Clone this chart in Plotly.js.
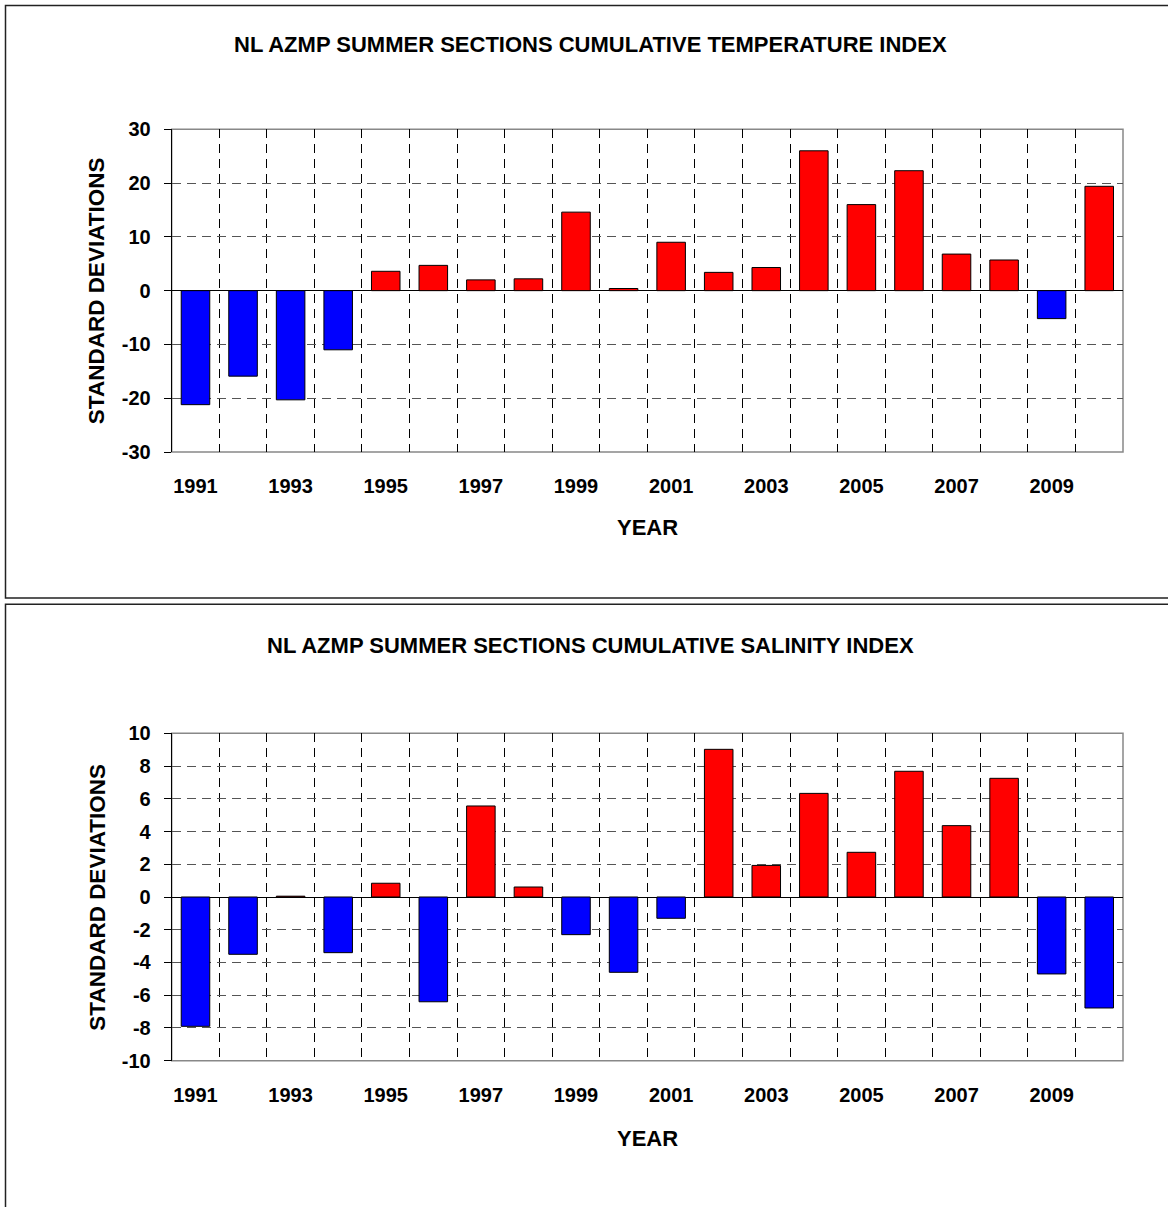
<!DOCTYPE html>
<html>
<head>
<meta charset="utf-8">
<script src="https://cdn.plot.ly/plotly-3.0.1.min.js"></script>
<style>html,body{margin:0;padding:0;background:#fff;}#chart{width:1168px;height:1207px;}</style>
</head>
<body>
<div id="chart"></div>
<script>
const years = [1991,1992,1993,1994,1995,1996,1997,1998,1999,2000,2001,2002,2003,2004,2005,2006,2007,2008,2009,2010];
const tempIndex = [-21.2,-15.9,-20.3,-11.0,3.6,4.7,2.0,2.2,14.6,0.4,9.0,3.4,4.3,26.0,16.0,22.3,6.8,5.7,-5.2,19.4];
const salIndex = [-7.9,-3.5,0.05,-3.4,0.84,-6.4,5.56,0.61,-2.3,-4.6,-1.3,9.02,1.93,6.33,2.73,7.68,4.36,7.25,-4.7,-6.78];
const xTickVals = [1991,1993,1995,1997,1999,2001,2003,2005,2007,2009];
const xTickText = ["1991","1993","1995","1997","1999","2001","2003","2005","2007","2009"];
const tempTicks = [-30,-20,-10,0,10,20,30];
const tempTickText = ["-30","-20","-10","0","10","20","30"];
const salTicks = [-10,-8,-6,-4,-2,0,2,4,6,8,10];
const salTickText = ["-10","-8","-6","-4","-2","0","2","4","6","8","10"];
const titleTop = "NL AZMP SUMMER SECTIONS CUMULATIVE TEMPERATURE INDEX";
const titleBottom = "NL AZMP SUMMER SECTIONS CUMULATIVE SALINITY INDEX";
const yTitle = "STANDARD DEVIATIONS";
const xTitle = "YEAR";

const FONT = "Liberation Sans, Arial, Helvetica, sans-serif";
const W = 1168, H = 1207;
const colorFor = v => v >= 0 ? "#FF0000" : "#0000FF";
const boundaries = years.slice(0, -1).map(y => y + 0.5);

function barTrace(vals, xa, ya) {
  return {
    type: "bar", x: years, y: vals, xaxis: xa, yaxis: ya, width: 0.6,
    marker: {color: vals.map(colorFor), line: {color: "#000", width: 1}},
    hoverinfo: "x+y", showlegend: false
  };
}

function xAxis(anchor) {
  return {
    anchor: anchor, domain: [171.7/W, 1123/W], range: [1990.5, 2010.5],
    tickmode: "array", tickvals: xTickVals, ticktext: xTickText,
    showgrid: false, zeroline: false, showline: false, ticks: "",
    ticklabelstandoff: 20,
    tickfont: {family: FONT, size: 20, color: "#000", weight: "bold"},
    minor: {tickmode: "array", tickvals: boundaries, showgrid: true, gridcolor: "#000", gridwidth: 1, griddash: "9px,6px", ticks: ""},
    fixedrange: true
  };
}
function yAxis(anchor, domain, range, ticks, text) {
  return {
    anchor: anchor, domain: domain, range: range,
    tickmode: "array", tickvals: ticks, ticktext: text,
    showgrid: true, gridcolor: "#555", gridwidth: 1, griddash: "9px,6px",
    zeroline: true, zerolinecolor: "#000", zerolinewidth: 1,
    showline: true, linecolor: "#000", linewidth: 1,
    ticks: "outside", ticklen: 7, tickcolor: "#000",
    ticklabelstandoff: 9,
    tickfont: {family: FONT, size: 20, color: "#000", weight: "bold"},
    fixedrange: true
  };
}

const py = p => 1 - p / H;
const px = p => p / W;
const ann = (text, x, y, angle, size) => ({
  text: text, xref: "paper", yref: "paper", x: x, y: y, xanchor: "center", yanchor: "middle",
  showarrow: false, textangle: angle || 0,
  font: {family: FONT, size: size || 22, color: "#000", weight: "bold"}
});

const layout = {
  width: W, height: H, margin: {l: 0, r: 0, t: 0, b: 0},
  paper_bgcolor: "#fff", plot_bgcolor: "rgba(0,0,0,0)",
  showlegend: false, bargap: 0.4,
  xaxis: xAxis("y"),
  yaxis: yAxis("x", [py(452), py(129.3)], [-30, 30], tempTicks, tempTickText),
  xaxis2: xAxis("y2"),
  yaxis2: yAxis("x2", [py(1060.7), py(733.3)], [-10, 10], salTicks, salTickText),
  annotations: [
    ann(titleTop, px(590), py(45)),
    ann(titleBottom, px(590), py(645)),
    ann(yTitle, px(96.7), py(290.5), -90, 22.5),
    ann(yTitle, px(96.7), py(897), -90, 22.5),
    ann(xTitle, px(647), py(527)),
    ann(xTitle, px(647), py(1138))
  ],
  shapes: [
    {type: "rect", xref: "x domain", yref: "y domain", x0: 0, x1: 1, y0: 0, y1: 1, line: {color: "#888", width: 1.5}, layer: "below"},
    {type: "rect", xref: "x2 domain", yref: "y2 domain", x0: 0, x1: 1, y0: 0, y1: 1, line: {color: "#888", width: 1.5}, layer: "below"},
    {type: "rect", xref: "paper", yref: "paper", x0: px(5.5), x1: 1.02, y0: py(598), y1: py(5.5), line: {color: "#222", width: 1.5}},
    {type: "rect", xref: "paper", yref: "paper", x0: px(5.5), x1: 1.02, y0: -0.02, y1: py(604.3), line: {color: "#222", width: 1.5}}
  ]
};

Plotly.newPlot("chart", [barTrace(tempIndex, "x", "y"), barTrace(salIndex, "x2", "y2")], layout, {displayModeBar: false, staticPlot: true});
</script>
</body>
</html>
